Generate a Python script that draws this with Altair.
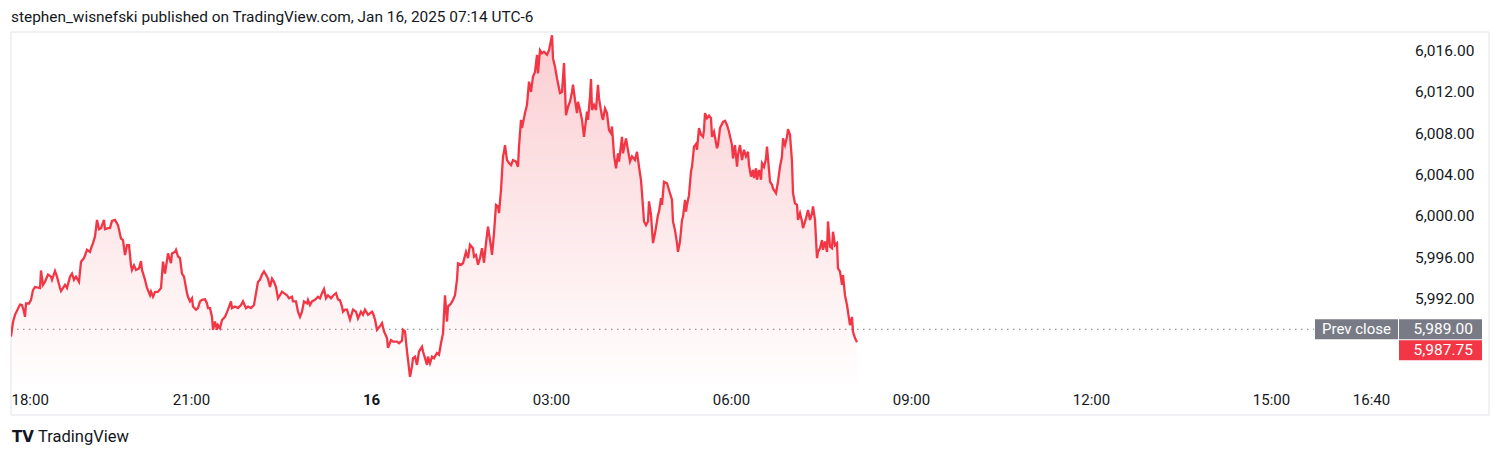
import altair as alt
import pandas as pd

# ---------------- data ----------------
title_text = "stephen_wisnefski published on TradingView.com, Jan 16, 2025 07:14 UTC-6"
prev_close = 5989.00
last_price = 5987.75
y_ticks = [5992, 5996, 6000, 6004, 6008, 6012, 6016]
# minutes after 18:00 (Jan 15) and their axis labels
x_tick_minutes = [0, 180, 360, 540, 720, 900, 1080, 1260, 1360]
x_tick_labels = ["18:00", "21:00", "16", "03:00", "06:00", "09:00", "12:00", "15:00", "16:40"]

# price path, minutes after 18:00
minutes_a = [0, 2, 4, 9, 11, 13, 14, 15, 18, 20, 22, 24, 29, 30, 32, 34, 37, 40, 41, 44, 46, 49, 50, 54, 56,
             59, 61, 63, 65, 68, 70, 73, 76, 79, 80, 82, 84, 86, 88, 90, 93, 94, 97, 99, 101, 104, 107, 110,
             112, 114, 116, 118, 120, 121, 123, 125, 128, 130, 131, 134, 136, 139, 140, 142, 144, 147, 150,
             152, 154, 157, 160, 161, 164, 165, 167]
price_a = [5988.3, 5989.7, 5990.4, 5991.4, 5991.35, 5990.7, 5990.2, 5991.5, 5991.5, 5991.85, 5992.8, 5993.1,
           5993.0, 5994.7, 5993.3, 5993.6, 5994.3, 5994.1, 5993.8, 5994.65, 5994.1, 5993.0, 5992.7, 5993.3,
           5993.0, 5994.1, 5994.4, 5993.8, 5994.1, 5993.6, 5995.55, 5995.9, 5996.7, 5996.5, 5996.85, 5997.35,
           5998.0, 5999.6, 5998.7, 5998.8, 5999.6, 5998.7, 5998.8, 5998.8, 5999.5, 5999.6, 5999.1, 5997.8,
           5997.65, 5996.2, 5997.15, 5997.15, 5995.2, 5994.75, 5995.2, 5994.75, 5994.9, 5995.6, 5994.75,
           5993.8, 5993.0, 5992.3, 5992.65, 5992.15, 5992.6, 5992.65, 5993.0, 5995.55, 5994.4, 5996.35,
           5995.4, 5996.35, 5996.5, 5996.7, 5996.05]

minutes_b = [169, 171, 173, 176, 177, 179, 181, 182, 185, 187, 189, 191, 194, 196, 197, 199, 201, 202, 204,
             206, 207, 209, 211, 214, 217, 220, 221, 224, 227, 230, 232, 235, 237, 240, 243, 245, 247, 249,
             251, 253, 256, 257, 259, 261, 263, 265, 267, 269, 271, 273, 276, 278, 281, 282, 285, 287, 289,
             291, 293, 296, 297, 299, 301, 304, 307, 309, 311, 313, 315, 317, 320, 322, 325, 327, 329, 331,
             332, 334]
price_b = [5995.9, 5994.4, 5994.1, 5992.5, 5992.15, 5991.7, 5992.0, 5991.2, 5990.9, 5991.05, 5991.7, 5991.85,
           5991.9, 5991.5, 5991.05, 5991.05, 5990.2, 5988.95, 5989.75, 5988.95, 5989.4, 5989.1, 5989.9,
           5990.2, 5990.9, 5991.7, 5991.05, 5991.2, 5991.05, 5991.35, 5991.7, 5991.05, 5991.2, 5991.05,
           5991.35, 5992.5, 5993.6, 5993.8, 5994.3, 5994.6, 5994.1, 5993.9, 5993.1, 5993.9, 5993.6, 5993.1,
           5992.0, 5992.3, 5992.65, 5992.5, 5992.3, 5992.0, 5992.15, 5991.7, 5991.7, 5990.7, 5990.2, 5990.7,
           5991.7, 5991.5, 5991.85, 5991.35, 5991.7, 5991.85, 5992.15, 5992.0, 5992.5, 5992.9, 5992.0,
           5992.3, 5992.0, 5992.25, 5992.5, 5991.9, 5991.8, 5991.2, 5990.7, 5990.9]

minutes_c = [336, 339, 342, 345, 347, 350, 352, 354, 357, 361, 362, 364, 366, 369, 371, 373, 376, 377, 380,
             382, 386, 388, 391, 392, 394, 396, 397, 399, 401, 402, 404, 406, 408, 411, 412, 414, 416, 417,
             419, 421, 423, 426, 428, 430, 432, 434, 436, 437, 440, 442, 444, 446, 447, 450, 452, 455, 457,
             459, 462, 463, 465, 467, 469, 471, 473, 475, 477, 480, 481, 483, 485, 487, 488, 490, 492, 493,
             494, 496, 498]
price_c = [5990.9, 5989.95, 5990.9, 5990.7, 5990.05, 5990.7, 5990.4, 5990.9, 5990.4, 5990.7, 5990.55,
           5989.95, 5988.95, 5989.3, 5989.6, 5988.8, 5988.15, 5987.2, 5987.95, 5987.8, 5987.8, 5987.65,
           5987.9, 5988.95, 5988.8, 5986.85, 5986.05, 5984.4, 5985.4, 5986.2, 5986.35, 5985.55, 5986.85,
           5987.3, 5986.85, 5986.2, 5985.55, 5986.35, 5985.7, 5986.35, 5986.2, 5986.7, 5986.55, 5987.65,
           5988.6, 5992.3, 5989.75, 5991.2, 5991.5, 5991.85, 5992.3, 5993.8, 5995.4, 5995.25, 5995.4,
           5996.5, 5995.9, 5997.2, 5996.85, 5996.05, 5996.2, 5995.25, 5995.9, 5996.85, 5995.45, 5997.35,
           5998.95, 5997.0, 5996.2, 5998.3, 6001.05, 6000.9, 6000.25, 6002.5, 6005.75, 6006.2, 6006.85,
           6005.4, 6005.1]

minutes_d = [500, 502, 505, 507, 508, 510, 511, 514, 516, 518, 520, 522, 524, 526, 527, 529, 531, 533, 536,
             538, 541, 542, 544, 546, 547, 549, 551, 553, 555, 557, 559, 561, 562, 564, 566, 567, 569, 571,
             573, 574, 576, 577, 579, 580, 581, 583, 585, 587, 588, 591, 592, 594, 596, 598, 600, 601, 603,
             605, 607, 608, 611, 612, 615, 617, 619, 621, 624, 626, 628, 630, 631, 633, 635, 637, 638, 640,
             642, 644, 647, 648, 650, 651, 653, 656, 658]
price_d = [6004.9, 6005.4, 6005.25, 6004.75, 6006.7, 6009.3, 6008.5, 6009.95, 6010.75, 6013.0, 6012.0,
           6013.5, 6013.95, 6015.6, 6013.8, 6016.05, 6015.75, 6015.9, 6015.6, 6016.05, 6017.5, 6015.25,
           6014.45, 6013.3, 6012.85, 6011.9, 6012.0, 6014.8, 6009.75, 6010.55, 6011.05, 6012.0, 6012.7,
           6011.2, 6009.95, 6011.05, 6010.25, 6009.3, 6007.65, 6008.5, 6010.1, 6009.3, 6011.55, 6013.25,
           6010.25, 6010.75, 6010.25, 6012.7, 6011.4, 6009.6, 6009.3, 6010.4, 6009.95, 6008.3, 6008.0,
           6008.65, 6005.9, 6004.6, 6006.05, 6005.25, 6007.65, 6006.05, 6007.5, 6006.35, 6005.25, 6005.75,
           6005.4, 6006.2, 6004.75, 6003.45, 6002.2, 5999.45, 5999.1, 5999.45, 6001.4, 6000.1, 5997.35,
           5998.3, 6000.1, 6000.4, 6001.7, 6001.05, 6003.3, 6003.15, 6002.5]

minutes_e = [661, 662, 664, 666, 667, 669, 671, 672, 674, 675, 676, 678, 680, 681, 683, 685, 686, 688, 690,
             692, 693, 694, 696, 698, 700, 701, 703, 706, 707, 709, 712, 714, 716, 718, 721, 722, 724, 726,
             727, 729, 731, 733, 735, 737, 738, 740, 742, 743, 745, 746, 748, 750, 751, 753, 755, 756, 758,
             759, 761, 762, 765, 767, 769, 771, 772, 774, 776, 777, 779, 781, 782, 784, 786, 787, 789, 791,
             792, 795, 797, 799, 801, 802, 804, 806, 807, 809, 811, 812, 814, 816, 817, 819, 821, 822, 824,
             826, 827, 829, 831, 832, 834, 836, 837, 839, 841, 842, 844, 846]
price_e = [6001.55, 5999.45, 5998.6, 5997.35, 5996.5, 5997.5, 5999.6, 5999.9, 6001.55, 6000.4, 6001.05,
           6002.0, 6004.3, 6004.75, 6006.7, 6006.95, 6006.4, 6008.5, 6007.85, 6007.65, 6008.3, 6009.95,
           6009.45, 6009.7, 6009.45, 6007.65, 6008.15, 6006.55, 6006.85, 6008.5, 6009.1, 6009.2, 6008.8,
           6008.15, 6006.85, 6005.55, 6006.85, 6004.75, 6005.9, 6006.85, 6005.4, 6006.4, 6005.75, 6006.2,
           6004.9, 6003.8, 6004.45, 6003.65, 6004.6, 6003.5, 6004.45, 6003.5, 6005.1, 6004.75, 6005.55,
           6006.7, 6004.45, 6003.3, 6003.0, 6002.65, 6002.2, 6003.3, 6004.75, 6005.75, 6007.5, 6006.85,
           6007.65, 6008.4, 6007.85, 6005.25, 6002.2, 6001.2, 6001.05, 5999.6, 6000.25, 5999.45, 5998.8,
           5999.75, 6000.55, 5999.6, 6000.25, 6000.9, 5999.6, 5995.9, 5996.5, 5996.85, 5997.65, 5996.7,
           5997.5, 5996.5, 5999.45, 5997.0, 5996.85, 5998.45, 5997.15, 5997.35, 5994.9, 5994.6, 5993.3,
           5994.25, 5992.3, 5991.35, 5990.7, 5989.4, 5990.2, 5988.75, 5988.15, 5987.75]

minutes = minutes_a + minutes_b + minutes_c + minutes_d + minutes_e
prices = price_a + price_b + price_c + price_d + price_e
df = pd.DataFrame({"minute": minutes, "price": prices})

# ---------------- styling ----------------
W, H = 1389, 353
XDOM = [0, 1389]
YDOM = [5983.6, 6017.81]
RED = "#f23645"
GRAY = "#787b86"
TEXT = "#131722"
FONT = "Roboto"
AREA_TOP = "#fbcdd1"

label_expr = ("[" + ",".join("'%s'" % l for l in x_tick_labels) + "][indexof(["
              + ",".join(str(m) for m in x_tick_minutes) + "], datum.value)]")

x_scale = alt.Scale(domain=XDOM, nice=False, zero=False)
y_scale = alt.Scale(domain=YDOM, nice=False, zero=False)

x_enc = alt.X(
    "minute:Q", scale=x_scale, title=None,
    axis=alt.Axis(values=x_tick_minutes, labelExpr=label_expr, grid=False, domain=False,
                  ticks=False, tickSize=0, labelPadding=14, labelBaseline="middle",
                  labelFlush=True, labelFontSize=15, labelColor=TEXT, labelFont=FONT,
                  labelOverlap=False,
                  labelFontWeight={"condition": {"test": "datum.value == 360", "value": "bold"},
                                   "value": "normal"}))
y_enc = alt.Y(
    "price:Q", scale=y_scale, title=None,
    axis=alt.Axis(orient="right", values=y_ticks, format=",.2f", grid=False, domain=False,
                  ticks=False, tickSize=0, labelPadding=74, labelAlign="right",
                  labelFontSize=15.5, labelColor=TEXT, labelFont=FONT))

one = pd.DataFrame({"k": [0]})

# white fade bands over the solid fill -> vertical gradient (styling only)
band_step = 4
band_top = list(range(0, H, band_step))
fade = pd.DataFrame({
    "y0": band_top,
    "y1": [min(t + band_step, H) for t in band_top],
    "o": [0.97 * ((t + band_step / 2) / H) ** 0.95 for t in band_top],
})

area = alt.Chart(df).mark_area(color=AREA_TOP, clip=True).encode(x=x_enc, y=y_enc, y2=alt.value(H))

fade_layer = alt.Chart(fade).mark_rect(color="white", strokeWidth=0).encode(
    x=alt.value(0), x2=alt.value(W),
    y=alt.Y("y0:Q", scale=None, axis=None), y2="y1:Q",
    opacity=alt.Opacity("o:Q", scale=None, legend=None))

frame = alt.Chart(one).mark_rect(fill="transparent", stroke="#e0e3eb", strokeWidth=1).encode(
    x=alt.value(0), x2=alt.value(1478), y=alt.value(0), y2=alt.value(383))

dots = alt.Chart(one).mark_rule(color=GRAY, strokeDash=[1.5, 4.5], strokeWidth=1).encode(
    x=alt.value(0), x2=alt.value(1303), y=alt.datum(prev_close))

line = alt.Chart(df).mark_line(color=RED, strokeWidth=2.3, clip=True).encode(x=x_enc, y=y_enc)

pc_box = alt.Chart(one).mark_rule(color=GRAY, strokeWidth=20, strokeCap="butt").encode(
    x=alt.value(1304), x2=alt.value(1387), y=alt.datum(prev_close))
pc_text = alt.Chart(one).mark_text(color="white", fontSize=15, align="center", baseline="middle").encode(
    x=alt.value(1345.5), y=alt.datum(prev_close), text=alt.value("Prev close"))
pv_box = alt.Chart(one).mark_rule(color=GRAY, strokeWidth=20, strokeCap="butt").encode(
    x=alt.value(1388), x2=alt.value(1471), y=alt.datum(prev_close))
pv_text = alt.Chart(one).mark_text(color="white", fontSize=15.5, align="right", baseline="middle").encode(
    x=alt.value(1462), y=alt.datum(prev_close), text=alt.value(f"{prev_close:,.2f}"))
lp_box = alt.Chart(one).mark_rule(color=RED, strokeWidth=20, strokeCap="butt", yOffset=8).encode(
    x=alt.value(1388), x2=alt.value(1471), y=alt.datum(last_price))
lp_text = alt.Chart(one).mark_text(color="white", fontSize=15.5, align="right", baseline="middle",
                                   yOffset=8).encode(
    x=alt.value(1462), y=alt.datum(last_price), text=alt.value(f"{last_price:,.2f}"))

title = alt.Chart(one).mark_text(color=TEXT, fontSize=15.4, align="left", baseline="middle").encode(
    x=alt.value(0), y=alt.value(-15), text=alt.value(title_text))
logo = alt.Chart(one).mark_text(color=TEXT, fontSize=15, fontWeight=900, align="left",
                                baseline="middle", font="DejaVu Sans").encode(
    x=alt.value(1), y=alt.value(405), text=alt.value("TV"))
brand = alt.Chart(one).mark_text(color=TEXT, fontSize=16.5, align="left", baseline="middle").encode(
    x=alt.value(27), y=alt.value(405), text=alt.value("TradingView"))

chart = alt.layer(
    area, fade_layer, frame, dots, line, pc_box, pc_text, pv_box, pv_text, lp_box, lp_text,
    title, logo, brand
).properties(
    width=W, height=H,
    autosize=alt.AutoSizeParams(type="none"),
    padding={"left": 3, "top": 24, "right": 90, "bottom": 62},
).configure(font=FONT).configure_view(stroke=None)

chart.save("out.html", embed_options={"renderer": "svg", "actions": False})
